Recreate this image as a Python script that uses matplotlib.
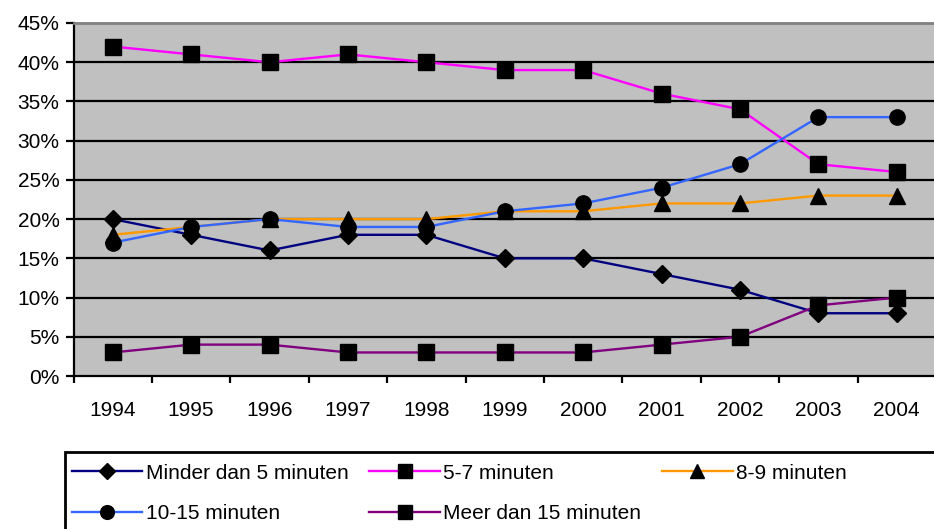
import matplotlib
matplotlib.use("Agg")
import matplotlib.pyplot as plt
from matplotlib.patches import Rectangle
from matplotlib.ticker import FixedLocator, FuncFormatter

years = ["1994", "1995", "1996", "1997", "1998", "1999", "2000", "2001", "2002", "2003", "2004"]
minder5 = [20, 18, 16, 18, 18, 15, 15, 13, 11, 8, 8]
min5_7 = [42, 41, 40, 41, 40, 39, 39, 36, 34, 27, 26]
min8_9 = [18, 19, 20, 20, 20, 21, 21, 22, 22, 23, 23]
min10_15 = [17, 19, 20, 19, 19, 21, 22, 24, 27, 33, 33]
meer15 = [3, 4, 4, 3, 3, 3, 3, 4, 5, 9, 10]
labels = ["Minder dan 5 minuten", "5-7 minuten", "8-9 minuten", "10-15 minuten", "Meer dan 15 minuten"]

plt.rcParams['font.family'] = ['Liberation Sans', 'DejaVu Sans']

W, H = 934, 529
fig = plt.figure(figsize=(W / 100, H / 100), dpi=100)
left, right, top, bottom = 73.5, 936, 23, 376
ax = fig.add_axes([left / W, 1 - bottom / H, (right - left) / W, (bottom - top) / H])
ax.set_facecolor("#C0C0C0")

x = list(range(len(years)))
series = [minder5, min5_7, min8_9, min10_15, meer15]
colors = ["#000080", "#FF00FF", "#FF9900", "#3366FF", "#800080"]
markers = ["D", "s", "^", "o", "s"]
msizes = [9, 11, 11, 11, 11]
handles = []
for vals, c, m, ms, lab in zip(series, colors, markers, msizes, labels):
    h, = ax.plot(x, vals, color=c, lw=1.7, marker=m, ms=ms, mfc="black", mec="black",
                 label=lab, zorder=3, clip_on=False)
    handles.append(h)

ax.set_xlim(-0.5, len(years) - 0.5)
ax.set_ylim(0, 45)
ax.yaxis.set_major_locator(FixedLocator(range(0, 50, 5)))
ax.yaxis.set_major_formatter(FuncFormatter(lambda v, p: f"{int(v)}%"))
for yv in range(5, 45, 5):
    ax.axhline(yv, color="black", lw=1.6, zorder=1)

ax.set_xticks(x)
ax.set_xticklabels(years)
ax.set_xticks([i - 0.5 for i in range(len(years) + 1)], minor=True)
ax.tick_params(axis="x", which="major", length=0, pad=18, labelsize=15)
ax.tick_params(axis="x", which="minor", length=5, width=1.6, direction="out")
ax.tick_params(axis="y", which="major", length=6, width=1.6, direction="out", pad=4, labelsize=15)

for s in ["left", "bottom"]:
    ax.spines[s].set_color("black")
    ax.spines[s].set_linewidth(1.6)
ax.spines["top"].set_color("#808080")
ax.spines["top"].set_linewidth(2)
ax.spines["right"].set_visible(False)

# legend box
fig.patches.append(Rectangle((65 / W, -0.05), 1.0, 1 - 452 / H + 0.05, transform=fig.transFigure,
                             fill=False, edgecolor="black", lw=2))
order = [0, 3, 1, 4, 2]
leg = fig.legend([handles[i] for i in order], [labels[i] for i in order], ncol=3,
                 loc="upper left", bbox_to_anchor=(57 / W, 1 - 449 / H), frameon=False,
                 fontsize=15, handlelength=3.4, handletextpad=0.15, columnspacing=1.0,
                 labelspacing=1.05, borderpad=0.2, markerscale=0.9)

fig.savefig("out.png", dpi=100)
